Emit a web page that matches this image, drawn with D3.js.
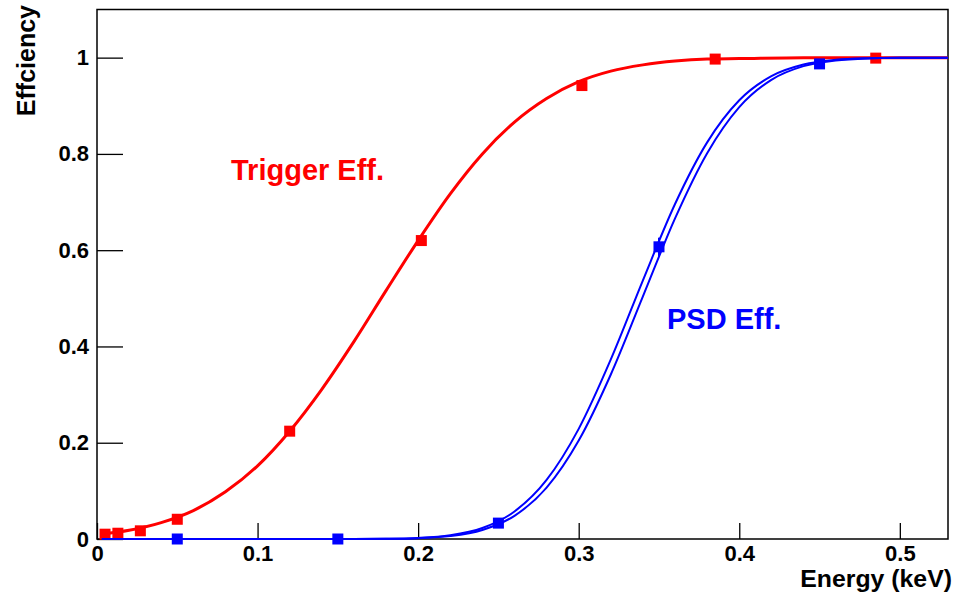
<!DOCTYPE html>
<html>
<head>
<meta charset="utf-8">
<script src="https://cdn.jsdelivr.net/npm/d3@7"></script>
<style>
body { margin: 0; background: #fff; }
text { font-family: "Liberation Sans", Arial, sans-serif; font-weight: bold; }
</style>
</head>
<body>
<svg id="chart" width="954" height="592"></svg>
<script>
/**********************
* data *
**********************/
// trigger efficiency measurements
var trig_energy = [0.005, 0.013, 0.027, 0.05, 0.12, 0.202, 0.302, 0.385, 0.485]
var trig_eff    = [0.010, 0.012, 0.017, 0.041, 0.224, 0.620, 0.942, 0.997, 0.999]

// PSD efficiency measurements
var psd_energy = [0.05, 0.15, 0.25, 0.35, 0.45]
var psd_eff    = [0.0, 0.0, 0.033, 0.607, 0.987]
var psd_err    = [0.0, 0.0, 0.004, 0.019, 0.004]

// fitted curves (points picked along the drawn lines)
var trig_fit_x = [0.003, 0.02, 0.04, 0.06, 0.08, 0.10, 0.12, 0.14, 0.16, 0.18, 0.20, 0.22, 0.24, 0.26, 0.28, 0.30, 0.32, 0.34, 0.36, 0.38, 0.40, 0.44, 0.48, 0.53]
var trig_fit_y = [0.010, 0.018, 0.034, 0.059, 0.098, 0.152, 0.224, 0.311, 0.410, 0.516, 0.620, 0.717, 0.800, 0.866, 0.915, 0.950, 0.972, 0.985, 0.993, 0.997, 0.998, 1.0, 1.0, 1.0]

var psd_fit_x    = [0.003, 0.16, 0.18, 0.20, 0.22, 0.24, 0.26, 0.28, 0.30, 0.32, 0.34, 0.36, 0.38, 0.40, 0.42, 0.44, 0.46, 0.48, 0.50, 0.53]
var psd_fit_lo_y = [0.0, 0.0001, 0.0006, 0.0023, 0.0078, 0.0229, 0.0572, 0.1228, 0.2288, 0.373, 0.5375, 0.696, 0.824, 0.9114, 0.9615, 0.9856, 0.9954, 0.9987, 0.9997, 1.0]
var psd_fit_hi_y = [0.0, 0.0001, 0.0004, 0.0018, 0.0062, 0.0188, 0.0482, 0.1066, 0.2044, 0.3417, 0.504, 0.666, 0.8015, 0.8972, 0.9539, 0.9823, 0.9941, 0.9984, 0.9996, 1.0]

// axes
var x_major = [0, 0.1, 0.2, 0.3, 0.4, 0.5]
var x_labels = ["0", "0.1", "0.2", "0.3", "0.4", "0.5"]
var y_major = [0, 0.2, 0.4, 0.6, 0.8, 1.0]
var y_labels = ["0", "0.2", "0.4", "0.6", "0.8", "1"]

/**********************
* layout *
**********************/
var frame_left = 97
var frame_right = 948
var frame_top = 9.5
var frame_bottom = 539

var red = "#ff0000"
var blue = "#0000ff"

var svg = d3.select("#chart")

var x = d3.scaleLinear().domain([0, 0.53]).range([frame_left, frame_right])
var y = d3.scaleLinear().domain([0, 1.1]).range([frame_bottom, frame_top])

var x_minor = d3.range(0, 0.531, 0.02).filter(function (v) { return Math.abs(v * 10 - Math.round(v * 10)) > 1e-6 })
var y_minor = d3.range(0, 1.101, 0.05).filter(function (v) { return Math.abs(v * 5 - Math.round(v * 5)) > 1e-6 })

/**********************
* axes *
**********************/
function draw_axes() {
    var gx = svg.append("g").attr("transform", "translate(0," + frame_bottom + ")")
    gx.call(d3.axisBottom(x).tickValues(x_minor).tickSize(-8).tickFormat(""))
    gx.call(d3.axisBottom(x).tickValues(x_major).tickSize(-16).tickPadding(6)
        .tickFormat(function (d, i) { return x_labels[i] }))

    var gy = svg.append("g").attr("transform", "translate(" + frame_left + ",0)")
    gy.call(d3.axisLeft(y).tickValues(y_minor).tickSize(-13).tickFormat(""))
    gy.call(d3.axisLeft(y).tickValues(y_major).tickSize(-26).tickPadding(8)
        .tickFormat(function (d, i) { return y_labels[i] }))

    svg.selectAll(".domain").remove()
    svg.selectAll(".tick line").attr("stroke", "#000").attr("stroke-width", 1.3)
    svg.selectAll(".tick text").attr("fill", "#000").style("font-size", "22px")

    // frame
    svg.append("rect")
        .attr("x", frame_left)
        .attr("y", frame_top)
        .attr("width", frame_right - frame_left)
        .attr("height", frame_bottom - frame_top)
        .attr("fill", "none")
        .attr("stroke", "#000")
        .attr("stroke-width", 1.5)

    // titles
    svg.append("text")
        .text("Energy (keV)")
        .attr("transform", "translate(952,587) scale(1.08,1)")
        .attr("text-anchor", "end")
        .style("font-size", "23px")

    svg.append("text")
        .text("Effciency")
        .attr("transform", "translate(35,5) rotate(-90)")
        .attr("text-anchor", "end")
        .style("font-size", "25px")
}

/**********************
* graphs *
**********************/
function draw_curve(xs, ys, color, width) {
    var line = d3.line()
        .x(function (d) { return x(d[0]) })
        .y(function (d) { return y(d[1]) })
        .curve(d3.curveMonotoneX)
    svg.append("path")
        .datum(d3.zip(xs, ys))
        .attr("d", line)
        .attr("fill", "none")
        .attr("stroke", color)
        .attr("stroke-width", width)
}

function draw_points(xs, ys, errs, color) {
    var pts = d3.zip(xs, ys, errs)
    var g = svg.append("g")
    g.selectAll("line")
        .data(pts.filter(function (d) { return d[2] > 0.006 }))
        .enter()
        .append("line")
        .attr("x1", function (d) { return x(d[0]) })
        .attr("x2", function (d) { return x(d[0]) })
        .attr("y1", function (d) { return y(d[1] - d[2]) })
        .attr("y2", function (d) { return y(d[1] + d[2]) })
        .attr("stroke", color)
        .attr("stroke-width", 2)
    g.selectAll("rect")
        .data(pts)
        .enter()
        .append("rect")
        .attr("x", function (d) { return x(d[0]) - 5.5 })
        .attr("y", function (d) { return y(d[1]) - 5.5 })
        .attr("width", 11)
        .attr("height", 11)
        .attr("fill", color)
}

function draw_labels() {
    svg.append("text")
        .text("Trigger Eff.")
        .attr("x", 231)
        .attr("y", 180)
        .attr("fill", red)
        .style("font-size", "29px")

    svg.append("text")
        .text("PSD Eff.")
        .attr("x", 667)
        .attr("y", 329)
        .attr("fill", blue)
        .style("font-size", "29px")
}

function main() {
    draw_axes()
    draw_curve(trig_fit_x, trig_fit_y, red, 3)
    draw_points(trig_energy, trig_eff, trig_energy.map(function () { return 0 }), red)
    draw_curve(psd_fit_x, psd_fit_lo_y, blue, 2)
    draw_curve(psd_fit_x, psd_fit_hi_y, blue, 2)
    draw_points(psd_energy, psd_eff, psd_err, blue)
    draw_labels()
}

main()
</script>
</body>
</html>
